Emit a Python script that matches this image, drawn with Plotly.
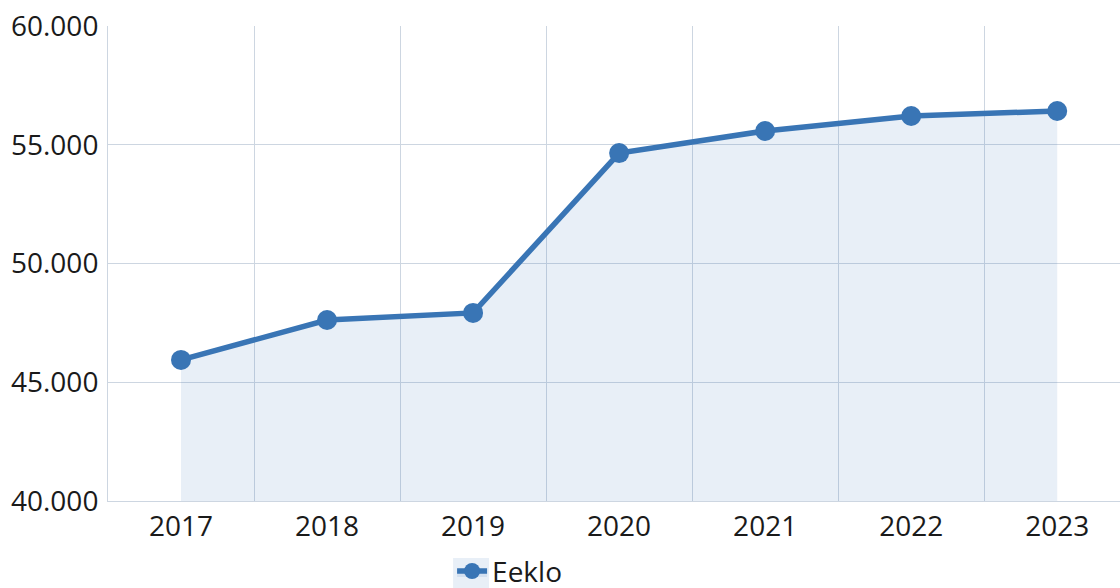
import plotly.graph_objects as go

years = ["2017", "2018", "2019", "2020", "2021", "2022", "2023"]
inwoners = [45940, 47620, 47920, 54650, 55580, 56210, 56420]
series_name = "Eeklo"

LINE = "#3975b5"
FILL = "rgba(57,117,181,0.115)"
GRID = "#cdd6e1"
FONT = "Open Sans, Noto Sans, sans-serif"

fig = go.Figure(
    go.Scatter(
        x=years,
        y=inwoners,
        name=series_name,
        mode="lines+markers",
        line=dict(color=LINE, width=5.5),
        marker=dict(color=LINE, size=20),
        fill="tozeroy",
        fillcolor=FILL,
        hoverinfo="x+y",
    )
)

# lichte achtergrond achter het legendasymbool
fig.add_shape(
    type="rect",
    xref="paper",
    yref="paper",
    x0=0.341,
    x1=0.3765,
    y0=-0.185,
    y1=-0.12,
    fillcolor="#e8eff7",
    line=dict(width=0),
    layer="below",
)

fig.update_layout(
    width=1120,
    height=588,
    paper_bgcolor="white",
    plot_bgcolor="white",
    separators=",.",
    font=dict(family=FONT, size=28, color="#1a1a1a"),
    margin=dict(l=108, r=0, t=26, b=87, autoexpand=False),
    showlegend=True,
    legend=dict(
        orientation="h",
        x=0.340,
        xanchor="left",
        y=-0.148,
        yanchor="middle",
        font=dict(size=28),
        bgcolor="rgba(0,0,0,0)",
    ),
)
fig.update_xaxes(
    type="category",
    range=[-0.5, 6.43],
    tickson="boundaries",
    showgrid=True,
    gridcolor=GRID,
    gridwidth=1,
    showline=True,
    linecolor=GRID,
    ticks="",
    automargin=False,
)
fig.update_yaxes(
    range=[40000, 60000],
    dtick=5000,
    tickformat=",d",
    showgrid=True,
    gridcolor=GRID,
    gridwidth=1,
    showline=True,
    linecolor=GRID,
    zeroline=False,
    ticks="",
    ticklabelstandoff=3,
    automargin=False,
)

fig.write_html(
    "out.html",
    config={"displayModeBar": False},
    post_script="document.body.style.margin='0';",
)
